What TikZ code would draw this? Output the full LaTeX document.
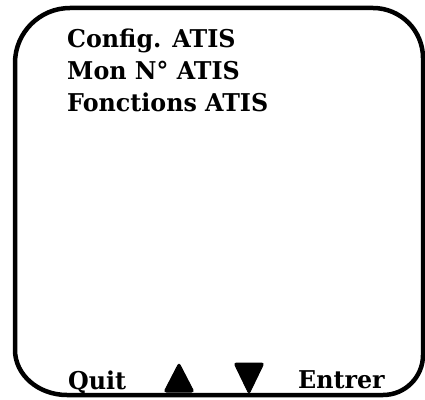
\documentclass[tikz,border=0pt]{standalone}
\usepackage{fontspec}
\setmainfont{DejaVu Serif}[FakeStretch=0.97]
\begin{document}
\begin{tikzpicture}[x=1pt,y=1pt,
  lbl/.style={inner sep=0pt, anchor=base west, font=\fontsize{24.5}{30}\selectfont\bfseries},
  frame/.style={line width=4.5pt},
  key/.style={fill=black, draw=black, line width=1pt, rounded corners=2.5pt}]
\useasboundingbox (0,0) rectangle (425,399);
\draw[frame] (15,336) arc[start angle=180,end angle=90,radius=55] -- (373,391)
  arc[start angle=90,end angle=0,radius=50] -- (423,44)
  arc[start angle=0,end angle=-90,radius=40] -- (67,4)
  arc[start angle=270,end angle=180,x radius=52,y radius=45] -- cycle;
\node[lbl] (l1) at (67,351) {Config. ATIS};
\node[lbl] (l2) at (67,319) {Mon N° ATIS};
\node[lbl] (l3) at (67,287) {Fonctions ATIS};
\node[lbl] (quit) at (68,10) {Quit};
\node[lbl] (entrer) at (298,11) {Entrer};
\coordinate (up) at (179,21);
\coordinate (down) at (249,21);
\filldraw[key] (164,7) -- (194,7) -- (179,36) -- cycle;
\filldraw[key] (234,36) -- (264,36) -- (249,5) -- cycle;
\end{tikzpicture}
\end{document}
